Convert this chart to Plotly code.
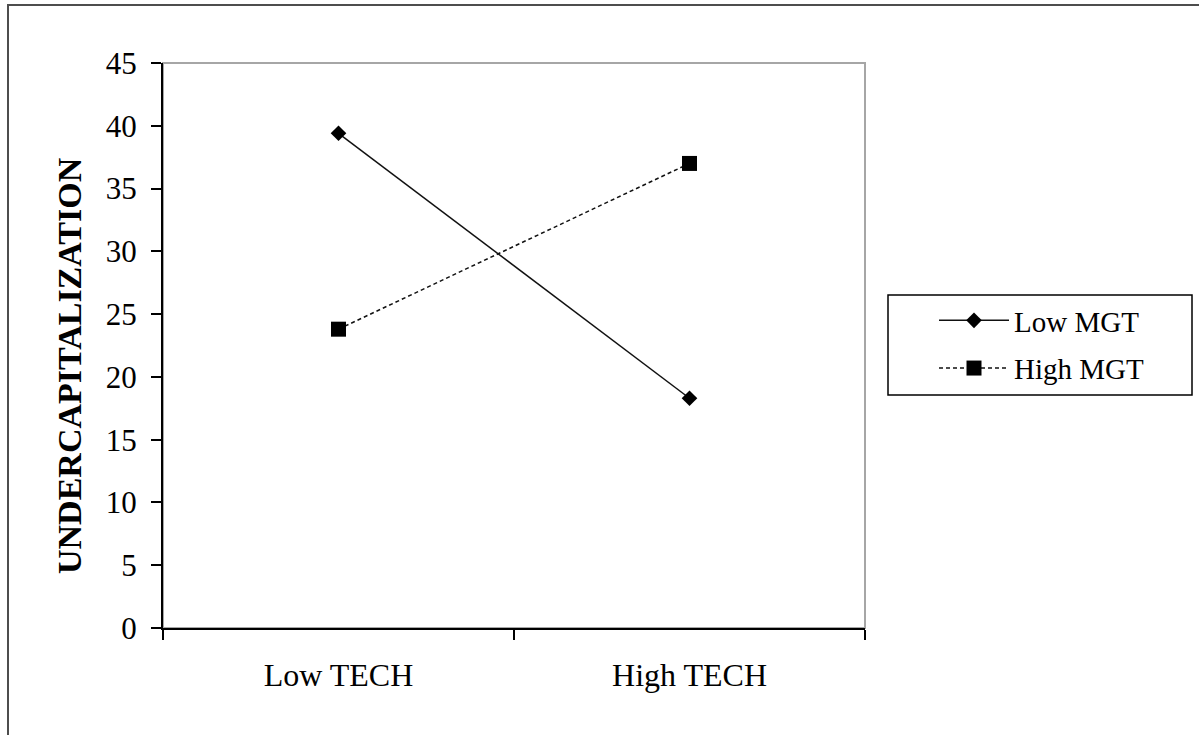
import plotly.graph_objects as go

categories = ["Low TECH", "High TECH"]
low_mgt = [39.4, 18.3]
high_mgt = [23.8, 37.0]
y_ticks = [0, 5, 10, 15, 20, 25, 30, 35, 40, 45]
y_title = "UNDERCAPITALIZATION"

W, H = 1199, 735
L, R, T, B = 163, 334, 63, 107
pw, ph = W - L - R, H - T - B

def px_x(x):
    return (x - L) / pw

def px_y(y):
    return (H - B - y) / ph

FONT = "Liberation Serif, Times New Roman, serif"

fig = go.Figure()
fig.add_trace(go.Scatter(
    x=categories, y=low_mgt, name="Low MGT", mode="lines+markers",
    line=dict(color="#111111", width=1.5),
    marker=dict(symbol="diamond", size=12, color="black"),
    legendgroup="a",
))
fig.add_trace(go.Scatter(
    x=categories, y=high_mgt, name="High MGT", mode="lines+markers",
    line=dict(color="#111111", width=1.5, dash="4px,3px"),
    marker=dict(symbol="square", size=15, color="black"),
    legendgroup="b",
))

shapes = [
    # grey plot frame (top/right)
    dict(type="rect", xref="paper", yref="paper", x0=0, y0=0, x1=1, y1=1,
         line=dict(color="#a6a6a6", width=2), layer="below"),
    # outer chart border (only top/left visible)
    dict(type="rect", xref="paper", yref="paper",
         x0=px_x(8), y0=px_y(760), x1=px_x(1230), y1=px_y(5),
         line=dict(color="#4d4d4d", width=2), layer="below"),
    # legend box
    dict(type="rect", xref="paper", yref="paper",
         x0=px_x(888), y0=px_y(395), x1=px_x(1192), y1=px_y(295),
         line=dict(color="black", width=1.5)),
]

fig.update_layout(
    width=W, height=H,
    margin=dict(l=L, r=R, t=T, b=B),
    paper_bgcolor="white", plot_bgcolor="white",
    font=dict(family=FONT, size=30, color="black"),
    showlegend=True,
    legend=dict(
        x=px_x(934), y=px_y(295), xanchor="left", yanchor="top",
        bgcolor="rgba(0,0,0,0)", borderwidth=0,
        font=dict(family=FONT, size=29, color="black"),
        itemwidth=70, tracegroupgap=7,
    ),
    shapes=shapes,
    annotations=[dict(
        text="<b>" + y_title + "</b>", textangle=-90,
        xref="paper", yref="paper", x=px_x(69), y=px_y(366),
        xanchor="center", yanchor="middle", showarrow=False,
        font=dict(family=FONT, size=34, color="black"),
    )],
    xaxis=dict(
        type="category", range=[-0.5, 1.5], tickson="boundaries",
        showline=True, linecolor="black", linewidth=2,
        ticks="outside", ticklen=10, tickwidth=2, tickcolor="black",
        showgrid=False, zeroline=False, ticklabelstandoff=18,
        tickfont=dict(family=FONT, size=32, color="black"),
    ),
    yaxis=dict(
        range=[0, 45], tickvals=y_ticks,
        showline=True, linecolor="black", linewidth=2,
        ticks="outside", ticklen=10, tickwidth=2, tickcolor="black",
        showgrid=False, zeroline=False, ticklabelstandoff=8,
        tickfont=dict(family=FONT, size=31, color="black"),
    ),
)

fig.write_html("out.html", config={"displayModeBar": False},
               post_script="document.body.style.margin='0';")
